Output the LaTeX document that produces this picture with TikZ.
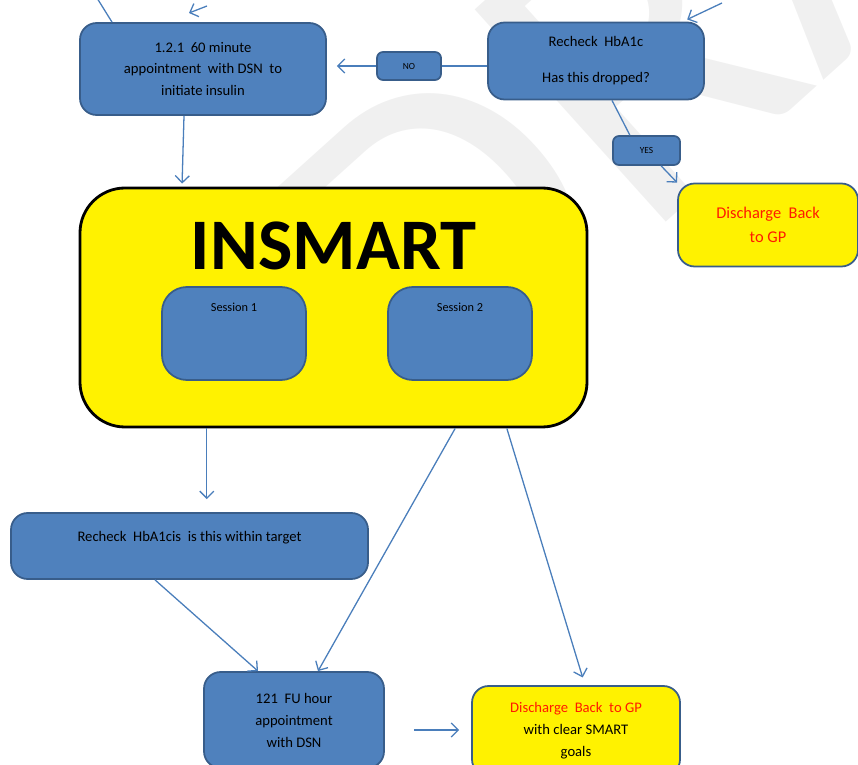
\documentclass[tikz,border=0pt]{standalone}
\usepackage{fontspec}
\setmainfont{Carlito}
\usetikzlibrary{arrows.meta}

\definecolor{boxblue}{HTML}{4F81BD}
\definecolor{boxline}{HTML}{385D8A}
\definecolor{linkblue}{HTML}{4A7EBB}
\definecolor{textred}{HTML}{FF1A00}

\begin{document}
\begin{tikzpicture}[x=0.03cm, y=-0.03cm]
\tikzset{
	blue box/.style = {
		draw=boxline, fill=boxblue,
		line width=1.5pt, rounded corners=0.5cm,
		align=center, inner sep=0pt,
		font=\fontsize{12.5}{18}\selectfont
	},
	tag/.style = {
		blue box, rounded corners=0.18cm,
		font=\fontsize{8}{10}\selectfont
	},
	yellow box/.style = {
		blue box, fill=yellow
	},
	link/.style = {
		draw=linkblue, line width=1.1pt
	},
	arrow/.style = {
		link, -{Straight Barb[length=6pt, width=12pt]}
	},
	watermark/.style = {
		text=black!6, inner sep=0pt,
		font=\fontsize{380}{380}\selectfont
	},
}

\useasboundingbox (0,0) rectangle (858,765);

% faint draft mark behind everything
\node [watermark, rotate=42, anchor=base west] (draft) at (439,427) {DRAFT};

% top row
\node [blue box, minimum width=7.38cm, minimum height=2.76cm] (appt) at (203,69)
	{1.2.1~ 60 minute\\appointment~ with DSN~ to\\initiate insulin};
\node [tag, minimum width=1.92cm, minimum height=0.84cm] (no) at (409,66) {NO};
\node [blue box, minimum width=6.48cm, minimum height=2.31cm] (recheck) at (596,61)
	{Recheck~ HbA1c\\[12.6pt]Has this dropped?};
\node [tag, minimum width=2.01cm, minimum height=0.87cm] (yes) at (646.5,150.5) {YES};
\node [yellow box, text=textred, minimum width=5.4cm, minimum height=2.49cm,
	font=\fontsize{14}{21}\selectfont] (discharge) at (768,225)
	{Discharge~ Back\\to GP};

% the course
\node [yellow box, draw=black, line width=2.4pt, rounded corners=1.35cm,
	minimum width=15.21cm, text height=2.46cm, text depth=4.71cm,
	font=\fontsize{62}{62}\selectfont\bfseries] (insmart) at (333.5,307.5) {INSMART};
\foreach \i/\x in {1/234, 2/460}
{
  \node [blue box, rounded corners=0.75cm, minimum width=4.32cm,
	text height=0.75cm, text depth=2.04cm,
	font=\fontsize{10.5}{12}\selectfont] (session\i) at (\x,333.5) {Session \i};
}

% bottom row
\node [blue box, minimum width=10.71cm, text height=0.84cm, text depth=1.14cm] (target) at (189.5,546)
	{Recheck~ HbA1cis~ is this within target};
\node [blue box, minimum width=5.4cm, minimum height=2.88cm,
	font=\fontsize{12.5}{18.8}\selectfont] (followup) at (294,720)
	{121~ FU hour\\appointment\\with DSN};
\node [yellow box, minimum width=6.24cm, minimum height=2.7cm,
	font=\fontsize{12.5}{18.8}\selectfont] (smart) at (576,731)
	{\textcolor{textred}{Discharge~ Back~ to GP}\\with clear SMART\\goals};

% links coming in from above
\coordinate (from1) at (97,-2);
\coordinate (from2) at (207,6);
\coordinate (to2) at (189,13);
\coordinate (from3) at (722,3);
\draw [link] (from1) -- ([xshift=-2.73cm]appt.north);
\draw [arrow] (from2) -- (to2);
\draw [arrow, shorten >=0.15cm] (from3) -- ([xshift=2.6cm]recheck.north);

% attach them
\draw [link] (recheck.west |- no.east) -- (no.east);
\draw [arrow, shorten >=0.3cm] (no.west) -- (appt.east |- no.west);
\draw [link] ([xshift=0.48cm]recheck.south) -- ([xshift=-0.5cm]yes.north);
\draw [arrow] (yes) -- (discharge.north west);
\draw [arrow, shorten >=0.09cm] ([xshift=-0.57cm]appt.south) -- ([xshift=-4.545cm]insmart.north);

\draw [arrow, shorten >=0.39cm] ([xshift=-3.8cm]insmart.south) -- ([xshift=-3.8cm]insmart.south |- target.north);
\draw [arrow] ([xshift=3.65cm]insmart.south) -- ([xshift=0.72cm]followup.north);
\draw [arrow, shorten >=0.24cm] ([xshift=5.2cm]insmart.south) -- ([xshift=0.27cm]smart.north);
\draw [arrow] ([xshift=-1.035cm]target.south) -- ([xshift=-1.08cm]followup.north);
\draw [arrow, shorten <=0.87cm, shorten >=0.36cm] ([yshift=-0.3cm]followup.east) -- ([yshift=-0.3cm]followup.east -| smart.west);

\end{tikzpicture}
\end{document}
